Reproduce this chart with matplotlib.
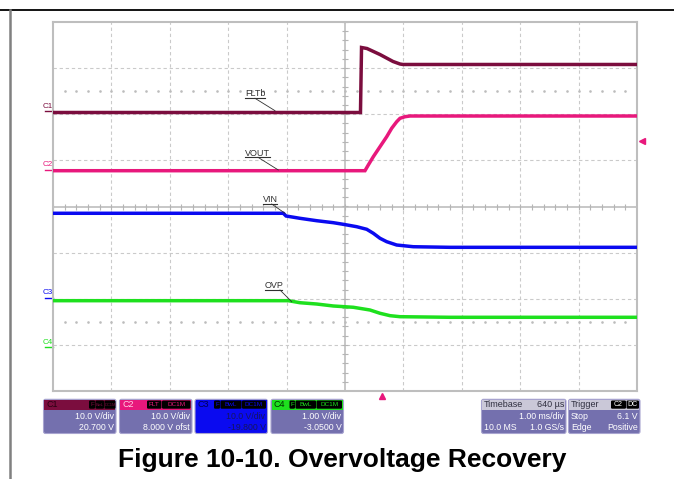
import matplotlib
matplotlib.use('Agg')
import matplotlib.pyplot as plt
import matplotlib.transforms as mtransforms
from matplotlib.patches import FancyBboxPatch, Rectangle
import numpy as np

W, H = 674, 479
FONT = 'Liberation Sans'

# ---------------- channel settings (from the scope readout) ----------------
ch_names = ['C1', 'C2', 'C3', 'C4']
ch_scale = [10.0, 10.0, 10.0, 1.00]            # V/div
ch_offset = [20.700, 8.000, -19.800, -3.0500]  # V
ch_color = ['#7b0d3e', '#e8187c', '#0a0af0', '#1ee01e']
ch_line1 = ['10.0 V/div', '10.0 V/div', '10.0 V/div', '1.00 V/div']
ch_line2 = ['20.700 V', '8.000 V ofst', '-19.800 V', '-3.0500 V']
ch_flags = [['F', 'BwL', 'DC1M'], ['FLT', 'DC1M'], ['F', 'BwL', 'DC1M'], ['F', 'BwL', 'DC1M']]

timebase_ms_div = 1.00
trigger_delay_ms = 0.640
trigger_level = 6.1

# ---------------- traces: time in ms (relative to trigger), volts ----------------
fltb_t = [-5.64, -0.375, -0.357, -0.263, -0.041, 0.182, 0.302, 0.353, 4.36]
fltb_v = [-0.32, -0.32, 13.77, 13.55, 12.25, 10.74, 10.19, 10.09, 10.09]

vout_t = [-5.64, -0.298, -0.241, -0.155, -0.041, 0.074, 0.159, 0.245, 0.302, 0.388, 0.473, 4.36]
vout_v = [-0.24, -0.24, 1.00, 2.80, 4.96, 7.13, 8.95, 10.38, 11.12, 11.47, 11.62, 11.62]

vin_t = [-5.64, -1.697, -1.650, -1.411, -1.125, -0.840, -0.669, -0.440, -0.268, -0.155,
         -0.041, 0.074, 0.245, 0.529, 1.158, 4.36]
vin_v = [18.33, 18.33, 17.74, 17.24, 16.72, 16.29, 15.94, 15.42, 14.86, 13.99,
         12.91, 12.17, 11.45, 11.08, 10.95, 10.95]

ovp_t = [-5.64, -1.611, -1.411, -1.125, -0.840, -0.498, -0.212, -0.041, 0.131, 0.302, 1.158, 4.36]
ovp_v = [1.008, 1.008, 0.964, 0.936, 0.893, 0.865, 0.806, 0.735, 0.683, 0.661, 0.648, 0.648]

traces = [(fltb_t, fltb_v), (vout_t, vout_v), (vin_t, vin_v), (ovp_t, ovp_v)]
labels = ['FLTb', 'VOUT', 'VIN', 'OVP']

# ---------------- figure ----------------
fig = plt.figure(figsize=(W / 100, H / 100), dpi=100)
fig.patch.set_facecolor('white')

ax_l, ax_r, ax_t, ax_b = 53, 637, 22, 391
ax = fig.add_axes([ax_l / W, (H - ax_b) / H, (ax_r - ax_l) / W, (ax_b - ax_t) / H])
x0 = -5 * timebase_ms_div - trigger_delay_ms
x1 = 5 * timebase_ms_div - trigger_delay_ms
ax.set_xlim(x0, x1)
ax.set_ylim(-4, 4)
ax.set_xticks([])
ax.set_yticks([])
for s in ax.spines.values():
    s.set_color('#bebebe')
    s.set_linewidth(1.5)

gcol = '#cacaca'
xc = (x0 + x1) / 2
for k in range(1, 10):
    if k != 5:
        ax.axvline(x0 + k * timebase_ms_div, color=gcol, lw=0.8, ls=(0, (3, 2.5)), zorder=1)
for j in range(-3, 4):
    if j != 0:
        ax.axhline(j, color=gcol, lw=0.8, ls=(0, (3, 2.5)), zorder=1)
ax.axvline(xc, color='#bdbdbd', lw=1.2, zorder=1)
ax.axhline(0, color='#bdbdbd', lw=1.2, zorder=1)
yt = np.arange(-4, 4.001, 0.2)
ax.plot([xc] * len(yt), yt, ls='', marker='_', ms=4, mew=0.8, color='#b5b5b5', zorder=1)
xt = x0 + np.arange(0, 10.001, 0.2) * timebase_ms_div
ax.plot(xt, [0] * len(xt), ls='', marker='|', ms=4, mew=0.8, color='#b5b5b5', zorder=1)
for yy in (2.5, -2.5):
    ax.plot(xt[1:-1], [yy] * (len(xt) - 2), ls='', marker='s', ms=0.8, color='#bcbcbc', zorder=1)

# traces
for i, (t, v) in enumerate(traces):
    d = (np.array(v) + ch_offset[i]) / ch_scale[i]
    ax.plot(t, d, color=ch_color[i], lw=2.5, solid_joinstyle='miter', zorder=3)

# channel ground markers on the left
bt = mtransforms.blended_transform_factory(ax.transAxes, ax.transData)
pxw = 1.0 / (ax_r - ax_l)
for i in range(4):
    g = ch_offset[i] / ch_scale[i]
    ax.plot([-8 * pxw, 0], [g, g], color=ch_color[i], lw=1.0, transform=bt, clip_on=False)
    ax.text(-5.5 * pxw, g + 0.03, ch_names[i], color=ch_color[i], fontsize=5.8, family=FONT,
            ha='center', va='bottom', transform=bt, clip_on=False)

# trigger markers
trig_d = (trigger_level + ch_offset[1]) / ch_scale[1]
ax.plot([1 + 5 * pxw], [trig_d], marker='<', ms=5, color=ch_color[1], transform=bt, clip_on=False)
bt2 = mtransforms.blended_transform_factory(ax.transData, ax.transAxes)
ax.plot([0], [-4.5 / (ax_b - ax_t)], marker='^', ms=5, color=ch_color[1], transform=bt2, clip_on=False)

# ---------------- overlay in pixel coordinates ----------------
ov = fig.add_axes([0, 0, 1, 1], zorder=5)
ov.set_xlim(0, W)
ov.set_ylim(H, 0)
ov.axis('off')

ov.plot([0, W], [10, 10], color='black', lw=1.3)
ov.plot([10, 10], [10, H], color='#808080', lw=1.8)

# signal labels with underline and leader
lab_pos = [(245, 93.5, 265, 98.3, 255, 275, 110.7),
           (245, 153.3, 270, 157.3, 258, 278.3, 170),
           (263, 200, 277, 204, 271.7, 285, 213.3),
           (264.5, 286, 282, 290, 280, 291.7, 301.7)]
for name, (tx, ty, ux, uy, lx0, lx1, ly1) in zip(labels, lab_pos):
    ov.text(tx, ty, name, fontsize=6.5, family=FONT, color='#303030', ha='left', va='center')
    ov.plot([tx, ux], [uy, uy], color='#303030', lw=0.8)
    ov.plot([lx0, lx1], [uy, ly1], color='#303030', lw=0.6)


def rbox(xa, xb, ya, yb, fc, ec='none', r=2.0, lw=0.8, z=6):
    p = FancyBboxPatch((xa, ya), xb - xa, yb - ya, boxstyle=f'round,pad=0,rounding_size={r}',
                       fc=fc, ec=ec, lw=lw, zorder=z)
    ov.add_patch(p)


body_col = '#7470ae'
edge_col = '#a8a4d0'
box_x = [(43.5, 116), (119.5, 192), (195, 267.5), (271, 343.5)]
flag_x = [[(89, 95), (95.5, 104), (104.5, 115.5)],
          [(147, 161.5), (162, 190.5)],
          [(214, 220), (220.5, 241.5), (242, 266)],
          [(289.5, 295), (295.5, 316), (316.5, 342)]]
BY0, BY1, HY = 399.3, 433.5, 409.5
for i in range(4):
    xa, xb = box_x[i]
    is_blue = (i == 2)
    rbox(xa, xb, BY0, BY1, ch_color[2] if is_blue else body_col, ec=edge_col)
    ov.add_patch(Rectangle((xa + 0.6, BY0 + 0.6), xb - xa - 1.2, HY - BY0 - 0.6,
                           fc=ch_color[i], ec='none', zorder=7))
    hcol = ['#2a0012', '#ffd0e4', '#000050', '#003000'][i]
    ov.text(xa + 3, (BY0 + HY) / 2 + 0.3, ch_names[i], fontsize=6.5, family=FONT, color=hcol,
            ha='left', va='center', zorder=8)
    for (fa, fb), flag in zip(flag_x[i], ch_flags[i]):
        rbox(fa, fb, BY0 + 1.2, HY - 0.8, '#000000', r=1.2, z=8)
        fs = min(4.6, (fb - fa - 1) / (0.62 * len(flag)) * 0.72 / 0.72 * 0.72 * 1.0)
        ov.text((fa + fb) / 2, (BY0 + HY) / 2 + 0.2, flag, fontsize=fs, family=FONT,
                color=ch_color[i], ha='center', va='center', zorder=9)
    tcol = '#151560' if is_blue else 'white'
    ov.text(xb - 2, 416.8, ch_line1[i], fontsize=6.3, family=FONT, color=tcol,
            ha='right', va='center', zorder=8)
    ov.text(xb - 2, 427.6, ch_line2[i], fontsize=6.3, family=FONT, color=tcol,
            ha='right', va='center', zorder=8)

# timebase box
hdr_gray = '#cac8d8'
tb = (481.5, 566)
rbox(tb[0], tb[1], BY0, BY1, body_col, ec=edge_col)
ov.add_patch(Rectangle((tb[0] + 0.6, BY0 + 0.6), tb[1] - tb[0] - 1.2, HY - BY0 - 0.6, fc=hdr_gray, ec='none', zorder=7))
ov.text(tb[0] + 2.5, (BY0 + HY) / 2 + 0.3, 'Timebase', fontsize=6.5, family=FONT, color='#303040', va='center', zorder=8)
ov.text(tb[1] - 2, (BY0 + HY) / 2 + 0.3, '640 µs', fontsize=6.5, family=FONT, color='#303040', va='center', ha='right', zorder=8)
ov.text(tb[1] - 2, 416.8, '1.00 ms/div', fontsize=6.3, family=FONT, color='white', va='center', ha='right', zorder=8)
ov.text(tb[0] + 2.5, 427.6, '10.0 MS', fontsize=6.3, family=FONT, color='white', va='center', ha='left', zorder=8)
ov.text(tb[1] - 2, 427.6, '1.0 GS/s', fontsize=6.3, family=FONT, color='white', va='center', ha='right', zorder=8)

# trigger box
tr = (568.5, 640)
rbox(tr[0], tr[1], BY0, BY1, body_col, ec=edge_col)
ov.add_patch(Rectangle((tr[0] + 0.6, BY0 + 0.6), tr[1] - tr[0] - 1.2, HY - BY0 - 0.6, fc=hdr_gray, ec='none', zorder=7))
ov.text(tr[0] + 2.5, (BY0 + HY) / 2 + 0.3, 'Trigger', fontsize=6.5, family=FONT, color='#303040', va='center', zorder=8)
for (fa, fb), flag in zip([(611, 626), (626.5, 639)], ['C2', 'DC']):
    rbox(fa, fb, BY0 + 1.2, HY - 0.8, '#000000', r=1.2, z=8)
    ov.text((fa + fb) / 2, (BY0 + HY) / 2 + 0.2, flag, fontsize=5, family=FONT, color='white',
            ha='center', va='center', zorder=9)
ov.text(tr[0] + 2.5, 416.8, 'Stop', fontsize=6.3, family=FONT, color='white', va='center', ha='left', zorder=8)
ov.text(tr[1] - 2, 416.8, f'{trigger_level} V', fontsize=6.3, family=FONT, color='white', va='center', ha='right', zorder=8)
ov.text(tr[0] + 2.5, 427.6, 'Edge', fontsize=6.3, family=FONT, color='white', va='center', ha='left', zorder=8)
ov.text(tr[1] - 2, 427.6, 'Positive', fontsize=6.3, family=FONT, color='white', va='center', ha='right', zorder=8)

# caption
ov.text(342.5, 460, 'Figure 10-10. Overvoltage Recovery', fontsize=19, fontweight='bold',
        family=FONT, color='black', ha='center', va='center')

fig.savefig('out.png', dpi=100)
